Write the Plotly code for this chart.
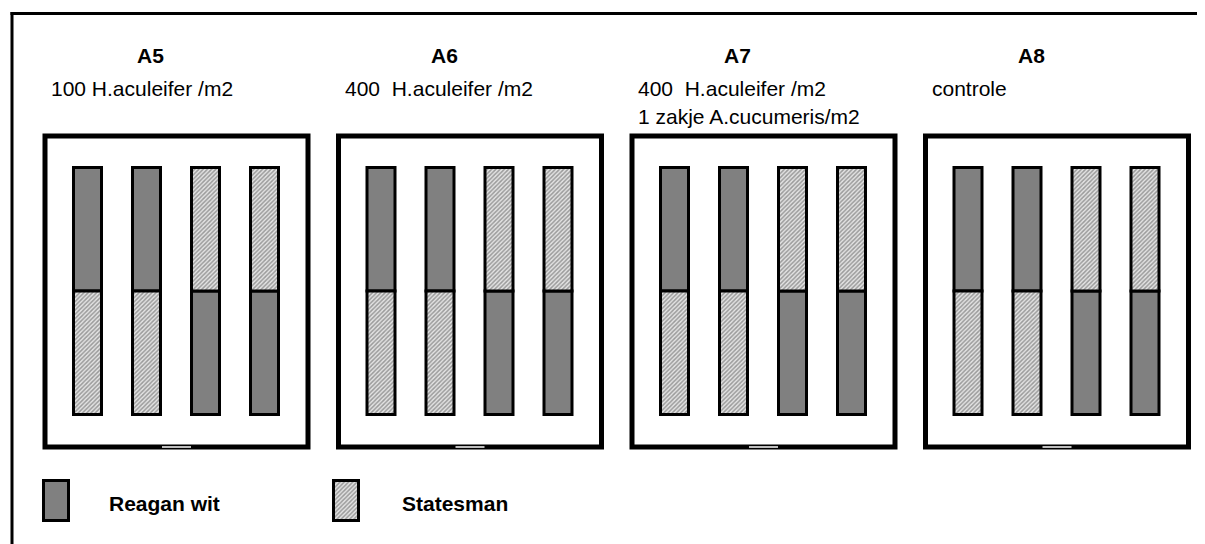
import plotly.graph_objects as go

# ---- data ----
plots = ["A5", "A6", "A7", "A8"]
treatments = [
    ["100 H.aculeifer /m2"],
    ["400  H.aculeifer /m2"],
    ["400  H.aculeifer /m2", "1 zakje A.cucumeris/m2"],
    ["controle"],
]
varieties = ["Reagan wit", "Statesman"]
# variety in the upper / lower half of each of the 4 rows (same in every plot)
upper_half = ["Reagan wit", "Reagan wit", "Statesman", "Statesman"]
lower_half = ["Statesman", "Statesman", "Reagan wit", "Reagan wit"]
half_length = [1, 1]  # each row: two equal halves

# ---- layout (pixel geometry) ----
W, H = 1205, 544
PAGE_MARGIN = 8  # default body margin of the html page
box_x0, box_pitch, box_w = 45, 293.5, 263
box_y0, box_y1 = 136, 447
row_off, row_pitch, row_w = 42.5, 59, 28
row_top, row_mid = 167.5, 291.0
px_per_unit = (row_mid - row_top) / half_length[0]

dark = "#808080"
fig = go.Figure()

styles = {
    "Reagan wit": dict(color=dark, line=dict(color="black", width=3)),
    "Statesman": dict(color="#dcdcdc", line=dict(color="black", width=3),
                      pattern=dict(shape="/", fgcolor="#505050", bgcolor="#e4e4e4",
                                   size=3, solidity=0.5)),
}

for v in varieties:
    xs, bases, ys = [], [], []
    for p in range(len(plots)):
        for r in range(len(upper_half)):
            cx = box_x0 + p * box_pitch + row_off + r * row_pitch
            if upper_half[r] == v:
                xs.append(cx); bases.append(row_top); ys.append(half_length[0] * px_per_unit)
            if lower_half[r] == v:
                xs.append(cx); bases.append(row_mid); ys.append(half_length[1] * px_per_unit)
    fig.add_trace(go.Bar(x=xs, y=ys, base=bases, width=row_w, marker=styles[v],
                         showlegend=False, hoverinfo="skip"))

# legend swatches
leg_x = [56, 346]
leg_text_x = [107, 400]
for i, v in enumerate(varieties):
    fig.add_trace(go.Bar(x=[leg_x[i]], y=[40], base=[480.5], width=25, marker=styles[v],
                         showlegend=False, hoverinfo="skip"))
    fig.add_annotation(x=leg_text_x[i], y=503, text=f"<b>{v}</b>", showarrow=False,
                       xanchor="left", yanchor="middle", xref="x", yref="y",
                       font=dict(family="Liberation Sans, Arial", size=21, color="black"))

shapes = []
# outer frame (top + left)
shapes.append(dict(type="line", x0=10.5, x1=W + 5, y0=13.5, y1=13.5, line=dict(color="black", width=3)))
shapes.append(dict(type="line", x0=12, x1=12, y0=12, y1=H + 5, line=dict(color="black", width=3)))

for p, name in enumerate(plots):
    x0 = box_x0 + p * box_pitch
    shapes.append(dict(type="rect", x0=x0, x1=x0 + box_w, y0=box_y0, y1=box_y1,
                       line=dict(color="black", width=5), layer="below"))
    cx = x0 + box_w / 2
    shapes.append(dict(type="line", x0=cx - 14.5, x1=cx + 14.5, y0=box_y1, y1=box_y1,
                       line=dict(color="white", width=1.5)))
    fig.add_annotation(x=x0 + 105.5, y=55, text=f"<b>{name}</b>", showarrow=False,
                       xanchor="center", yanchor="middle",
                       font=dict(family="Liberation Sans, Arial", size=21, color="black"))
    for li, line in enumerate(treatments[p]):
        fig.add_annotation(x=x0 + 4, y=88 + li * 28, text=line, showarrow=False,
                           xanchor="left", yanchor="middle",
                           font=dict(family="Liberation Sans, Arial", size=21, color="black"))

fig.update_layout(
    width=W - PAGE_MARGIN, height=H - PAGE_MARGIN, margin=dict(l=0, r=0, t=0, b=0),
    paper_bgcolor="white", plot_bgcolor="white",
    barmode="overlay", shapes=shapes,
    xaxis=dict(range=[PAGE_MARGIN, W], visible=False, fixedrange=True),
    yaxis=dict(range=[H, PAGE_MARGIN], visible=False, fixedrange=True),
    showlegend=False,
)
fig.write_html("out.html", config={"displayModeBar": False})
